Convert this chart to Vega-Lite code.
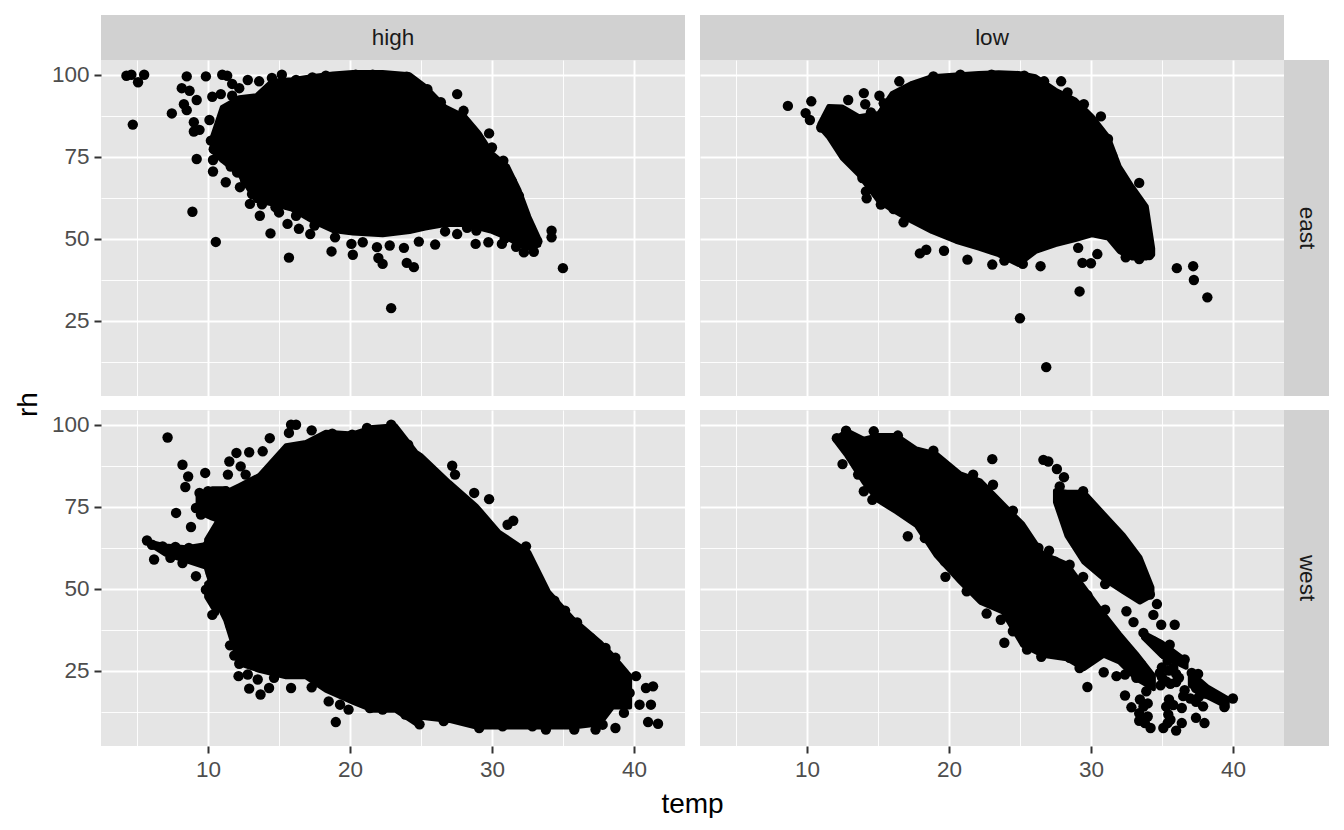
{"$schema":"https://vega.github.io/schema/vega-lite/v6.json","padding":{"left":14,"top":14,"right":0,"bottom":0},"autosize":{"type":"pad"},"background":"white","columns":4,"spacing":0,"align":"each","bounds":"flush","config":{"font":"Liberation Sans","view":{"stroke":null},"axis":{"domain":false,"labelColor":"#4D4D4D","labelFontSize":22.5,"labelOverlap":false,"labelFlush":false,"labelBound":false,"labelPadding":5,"tickColor":"#333333","tickSize":7,"tickWidth":2,"gridColor":"#FFFFFF","titleColor":"#000000","titleFontSize":28,"titleFontWeight":"normal"}},
"datasets":{"bands":[
{"heat":"high","region":"east","blob":"a","temp":10.3,"top":80.9,"bottom":76.8},{"heat":"high","region":"east","blob":"a","temp":11.0,"top":90,"bottom":73.8},{"heat":"high","region":"east","blob":"a","temp":12.2,"top":93,"bottom":69.7},{"heat":"high","region":"east","blob":"a","temp":13.4,"top":93.6,"bottom":61.6},{"heat":"high","region":"east","blob":"a","temp":14.5,"top":98,"bottom":60.6},{"heat":"high","region":"east","blob":"a","temp":15.9,"top":98.5,"bottom":59},{"heat":"high","region":"east","blob":"a","temp":17.3,"top":99.4,"bottom":55.5},{"heat":"high","region":"east","blob":"a","temp":18.8,"top":100.2,"bottom":52.5},{"heat":"high","region":"east","blob":"a","temp":20.2,"top":100.7,"bottom":51.7},{"heat":"high","region":"east","blob":"a","temp":22.3,"top":100.7,"bottom":51.2},{"heat":"high","region":"east","blob":"a","temp":24.2,"top":100,"bottom":52.2},{"heat":"high","region":"east","blob":"a","temp":25.3,"top":96.4,"bottom":53.2},{"heat":"high","region":"east","blob":"a","temp":26.7,"top":90.2,"bottom":54.3},{"heat":"high","region":"east","blob":"a","temp":28.1,"top":87.2,"bottom":54.3},{"heat":"high","region":"east","blob":"a","temp":29.1,"top":82.1,"bottom":53.2},{"heat":"high","region":"east","blob":"a","temp":30,"top":76,"bottom":52.2},{"heat":"high","region":"east","blob":"a","temp":31.1,"top":72,"bottom":50.2},{"heat":"high","region":"east","blob":"a","temp":31.9,"top":64.9,"bottom":48.2},{"heat":"high","region":"east","blob":"a","temp":32.6,"top":56.7,"bottom":47.1},{"heat":"high","region":"east","blob":"a","temp":33.3,"top":50,"bottom":48},
{"heat":"low","region":"east","blob":"a","temp":10.9,"top":85,"bottom":84},{"heat":"low","region":"east","blob":"a","temp":11.53,"top":90.3,"bottom":80.9},{"heat":"low","region":"east","blob":"a","temp":12.47,"top":90.2,"bottom":74.6},{"heat":"low","region":"east","blob":"a","temp":13.65,"top":87.2,"bottom":69.5},{"heat":"low","region":"east","blob":"a","temp":15.06,"top":88.2,"bottom":61.4},{"heat":"low","region":"east","blob":"a","temp":16,"top":94.3,"bottom":58.8},{"heat":"low","region":"east","blob":"a","temp":17.4,"top":97.4,"bottom":55.3},{"heat":"low","region":"east","blob":"a","temp":18.8,"top":99.4,"bottom":52.2},{"heat":"low","region":"east","blob":"a","temp":20.5,"top":99.9,"bottom":49.2},{"heat":"low","region":"east","blob":"a","temp":22.1,"top":100.4,"bottom":47.1},{"heat":"low","region":"east","blob":"a","temp":23.5,"top":100.6,"bottom":45.1},{"heat":"low","region":"east","blob":"a","temp":24.9,"top":100.4,"bottom":42.1},{"heat":"low","region":"east","blob":"a","temp":26.1,"top":99.4,"bottom":46.1},{"heat":"low","region":"east","blob":"a","temp":27.5,"top":95.3,"bottom":48.2},{"heat":"low","region":"east","blob":"a","temp":28.9,"top":92.3,"bottom":49.7},{"heat":"low","region":"east","blob":"a","temp":30.1,"top":87.2,"bottom":51.2},{"heat":"low","region":"east","blob":"a","temp":31.2,"top":81.1,"bottom":50.2},{"heat":"low","region":"east","blob":"a","temp":32,"top":72,"bottom":46.1},{"heat":"low","region":"east","blob":"a","temp":32.9,"top":65.9,"bottom":44.1},{"heat":"low","region":"east","blob":"a","temp":33.9,"top":59.8,"bottom":44.1},{"heat":"low","region":"east","blob":"a","temp":34.35,"top":47,"bottom":45},
{"heat":"high","region":"west","blob":"a","temp":9.9,"top":65,"bottom":56},{"heat":"high","region":"west","blob":"a","temp":10.6,"top":70,"bottom":46},{"heat":"high","region":"west","blob":"a","temp":11.25,"top":79.4,"bottom":40.3},{"heat":"high","region":"west","blob":"a","temp":12.2,"top":81.4,"bottom":27.1},{"heat":"high","region":"west","blob":"a","temp":13.6,"top":84.5,"bottom":25.1},{"heat":"high","region":"west","blob":"a","temp":15.5,"top":93.6,"bottom":23.1},{"heat":"high","region":"west","blob":"a","temp":16.9,"top":94.6,"bottom":23.1},{"heat":"high","region":"west","blob":"a","temp":18.3,"top":97.7,"bottom":19},{"heat":"high","region":"west","blob":"a","temp":20.2,"top":97.2,"bottom":15.4},{"heat":"high","region":"west","blob":"a","temp":21.6,"top":99.2,"bottom":12.9},{"heat":"high","region":"west","blob":"a","temp":23.2,"top":99.7,"bottom":12.9},{"heat":"high","region":"west","blob":"a","temp":24.65,"top":91.6,"bottom":8.8},{"heat":"high","region":"west","blob":"a","temp":25,"top":90.6,"bottom":10.8},{"heat":"high","region":"west","blob":"a","temp":27,"top":82.4,"bottom":9.8},{"heat":"high","region":"west","blob":"a","temp":28.9,"top":75.2,"bottom":7.8},{"heat":"high","region":"west","blob":"a","temp":30.5,"top":67.2,"bottom":7.8},{"heat":"high","region":"west","blob":"a","temp":32.6,"top":61.1,"bottom":7.8},{"heat":"high","region":"west","blob":"a","temp":34,"top":48.9,"bottom":7.8},{"heat":"high","region":"west","blob":"a","temp":35.7,"top":40.8,"bottom":7.8},{"heat":"high","region":"west","blob":"a","temp":37.6,"top":33.7,"bottom":8.8},{"heat":"high","region":"west","blob":"a","temp":38.5,"top":29.6,"bottom":13.9},{"heat":"high","region":"west","blob":"a","temp":39.7,"top":23.5,"bottom":13.9},
{"heat":"high","region":"west","blob":"s","temp":5.9,"top":64.2,"bottom":63.6},{"heat":"high","region":"west","blob":"s","temp":7,"top":63,"bottom":60.5},{"heat":"high","region":"west","blob":"s","temp":8.5,"top":62.5,"bottom":58.5},{"heat":"high","region":"west","blob":"s","temp":9.9,"top":63.5,"bottom":56.5},
{"heat":"high","region":"west","blob":"c","temp":9.3,"top":78.5,"bottom":73.5},{"heat":"high","region":"west","blob":"c","temp":10.3,"top":80.5,"bottom":71.5},{"heat":"high","region":"west","blob":"c","temp":11.3,"top":80.5,"bottom":70},
{"heat":"high","region":"west","blob":"d","temp":9.9,"top":51.5,"bottom":47.5},{"heat":"high","region":"west","blob":"d","temp":10.6,"top":54,"bottom":42.5},
{"heat":"low","region":"west","blob":"a","temp":12,"top":95.6,"bottom":95.2},{"heat":"low","region":"west","blob":"a","temp":12.8,"top":98.2,"bottom":90.6},{"heat":"low","region":"west","blob":"a","temp":14,"top":95.6,"bottom":82.5},{"heat":"low","region":"west","blob":"a","temp":15,"top":96.7,"bottom":76.9},{"heat":"low","region":"west","blob":"a","temp":16.3,"top":96.7,"bottom":73.4},{"heat":"low","region":"west","blob":"a","temp":17.7,"top":92.6,"bottom":69.3},{"heat":"low","region":"west","blob":"a","temp":19.1,"top":91.1,"bottom":60.1},{"heat":"low","region":"west","blob":"a","temp":20.8,"top":85,"bottom":52},{"heat":"low","region":"west","blob":"a","temp":22.2,"top":82.9,"bottom":45.9},{"heat":"low","region":"west","blob":"a","temp":23.8,"top":75.8,"bottom":42.9},{"heat":"low","region":"west","blob":"a","temp":25.2,"top":69.7,"bottom":32.7},{"heat":"low","region":"west","blob":"a","temp":26.6,"top":60.6,"bottom":29.7},{"heat":"low","region":"west","blob":"a","temp":28.3,"top":57.5,"bottom":28.6},{"heat":"low","region":"west","blob":"a","temp":29.5,"top":50.4,"bottom":25.6},{"heat":"low","region":"west","blob":"a","temp":30.9,"top":42.3,"bottom":29.7},{"heat":"low","region":"west","blob":"a","temp":32,"top":36.2,"bottom":27.6},{"heat":"low","region":"west","blob":"a","temp":33.2,"top":30.1,"bottom":22.5},{"heat":"low","region":"west","blob":"a","temp":34.4,"top":23.5,"bottom":19.5},
{"heat":"low","region":"west","blob":"b","temp":27.5,"top":79.9,"bottom":76.4},{"heat":"low","region":"west","blob":"b","temp":28.3,"top":79.4,"bottom":66.2},{"heat":"low","region":"west","blob":"b","temp":29.5,"top":79.4,"bottom":58.1},{"heat":"low","region":"west","blob":"b","temp":30.9,"top":72.8,"bottom":53},{"heat":"low","region":"west","blob":"b","temp":32.3,"top":66.2,"bottom":49},{"heat":"low","region":"west","blob":"b","temp":33.45,"top":59.6,"bottom":45.9},{"heat":"low","region":"west","blob":"b","temp":34.3,"top":50.4,"bottom":48},
{"heat":"low","region":"west","blob":"c","temp":33.7,"top":36.5,"bottom":35},{"heat":"low","region":"west","blob":"c","temp":35,"top":33.5,"bottom":29.5},{"heat":"low","region":"west","blob":"c","temp":36.7,"top":28,"bottom":26},
{"heat":"low","region":"west","blob":"e","temp":37,"top":24.5,"bottom":20.5},{"heat":"low","region":"west","blob":"e","temp":38.2,"top":20,"bottom":17},{"heat":"low","region":"west","blob":"e","temp":39.6,"top":16.5,"bottom":14}
],"points":[
{"p":"he","temp":4.25,"rh":99.7},{"p":"he","temp":4.6,"rh":100},{"p":"he","temp":5.5,"rh":100},{"p":"he","temp":5.07,"rh":97.7},{"p":"he","temp":4.7,"rh":84.8},{"p":"he","temp":8.5,"rh":99.5},{"p":"he","temp":9.85,"rh":99.5},{"p":"he","temp":8.15,"rh":95.9},{"p":"he","temp":8.7,"rh":95.1},{"p":"he","temp":9.2,"rh":92.3},{"p":"he","temp":8.3,"rh":91},{"p":"he","temp":8.5,"rh":89.2},{"p":"he","temp":7.45,"rh":88.2},{"p":"he","temp":9,"rh":85.5},{"p":"he","temp":10.1,"rh":86.2},{"p":"he","temp":9,"rh":82.7},{"p":"he","temp":9.4,"rh":83.2},{"p":"he","temp":9.2,"rh":74.3},{"p":"he","temp":10.35,"rh":74},{"p":"he","temp":10.35,"rh":70.5},{"p":"he","temp":11.25,"rh":67.2},{"p":"he","temp":12.25,"rh":65.7},{"p":"he","temp":8.9,"rh":58.2},{"p":"he","temp":10.55,"rh":49},{"p":"he","temp":12.95,"rh":60.6},{"p":"he","temp":13.65,"rh":57},{"p":"he","temp":14.4,"rh":51.6},{"p":"he","temp":14.75,"rh":59.6},{"p":"he","temp":15.6,"rh":54.5},{"p":"he","temp":16.4,"rh":53},{"p":"he","temp":17.2,"rh":51.4},{"p":"he","temp":15.7,"rh":44.2},{"p":"he","temp":18.7,"rh":46.1},{"p":"he","temp":18.95,"rh":50.4},{"p":"he","temp":20.2,"rh":45.1},{"p":"he","temp":20.1,"rh":48.4},{"p":"he","temp":20.9,"rh":48.9},{"p":"he","temp":21.9,"rh":47.4},{"p":"he","temp":22,"rh":44.1},{"p":"he","temp":22.3,"rh":42.3},{"p":"he","temp":22.8,"rh":47.9},{"p":"he","temp":23.8,"rh":47.2},{"p":"he","temp":24,"rh":42.6},{"p":"he","temp":24.5,"rh":41.3},{"p":"he","temp":22.9,"rh":28.8},{"p":"he","temp":24.85,"rh":49.1},{"p":"he","temp":26,"rh":48.2},{"p":"he","temp":26.7,"rh":52.2},{"p":"he","temp":27.55,"rh":51.4},{"p":"he","temp":28.25,"rh":53.3},{"p":"he","temp":28.85,"rh":48.4},{"p":"he","temp":29.75,"rh":48.9},{"p":"he","temp":30.7,"rh":48.4},{"p":"he","temp":32.25,"rh":45.8},{"p":"he","temp":32.95,"rh":46},{"p":"he","temp":33.2,"rh":49.2},{"p":"he","temp":34.2,"rh":52.4},{"p":"he","temp":34.2,"rh":50.4},{"p":"he","temp":35,"rh":41},{"p":"he","temp":27.55,"rh":94.1},{"p":"he","temp":28,"rh":89},{"p":"he","temp":29.8,"rh":82.1},{"p":"he","temp":30,"rh":77.8},{"p":"he","temp":30.8,"rh":73.8},{"p":"he","temp":31.4,"rh":67.5},{"p":"he","temp":31.9,"rh":63},{"p":"he","temp":32.1,"rh":58.5},{"p":"he","temp":32.7,"rh":53.4},{"p":"he","temp":11,"rh":100},{"p":"he","temp":11.35,"rh":99.7},{"p":"he","temp":11.7,"rh":97.2},{"p":"he","temp":12.2,"rh":95.9},{"p":"he","temp":12.8,"rh":98.4},{"p":"he","temp":13.6,"rh":98},{"p":"he","temp":10.3,"rh":93.3},{"p":"he","temp":10.9,"rh":94.1},{"p":"he","temp":11.7,"rh":93.6},{"p":"he","temp":14.5,"rh":99},{"p":"he","temp":15.2,"rh":100},{"p":"he","temp":16.2,"rh":98.4},{"p":"he","temp":17.35,"rh":99.2},{"p":"he","temp":18.3,"rh":99.7},{"p":"he","temp":20.4,"rh":100},{"p":"he","temp":21.6,"rh":100},{"p":"he","temp":23.2,"rh":99.2},{"p":"he","temp":24,"rh":99.4},{"p":"he","temp":25.45,"rh":95.6},{"p":"he","temp":26.4,"rh":91.6},{"p":"he","temp":11.4,"rh":89},{"p":"he","temp":11.4,"rh":85.5},{"p":"he","temp":11,"rh":84.5},{"p":"he","temp":10.2,"rh":79.9},{"p":"he","temp":10.4,"rh":77.3},{"p":"he","temp":11,"rh":75.3},{"p":"he","temp":12.05,"rh":70.2},{"p":"he","temp":13.1,"rh":63.6},{"p":"he","temp":11.6,"rh":72},{"p":"he","temp":12.6,"rh":68},{"p":"he","temp":13.8,"rh":60.5},{"p":"he","temp":15,"rh":58},{"p":"he","temp":16.2,"rh":57},{"p":"he","temp":17.5,"rh":54},{"p":"he","temp":28.9,"rh":52.5},{"p":"he","temp":30.9,"rh":50},{"p":"he","temp":31.7,"rh":47.5},
{"p":"le","temp":8.65,"rh":90.5},{"p":"le","temp":10.3,"rh":91.9},{"p":"le","temp":9.9,"rh":88.3},{"p":"le","temp":10.2,"rh":86.2},{"p":"le","temp":11,"rh":83.9},{"p":"le","temp":11.9,"rh":80.4},{"p":"le","temp":12.9,"rh":92.3},{"p":"le","temp":14,"rh":94.4},{"p":"le","temp":15.1,"rh":93.6},{"p":"le","temp":14.1,"rh":91},{"p":"le","temp":15.4,"rh":91.3},{"p":"le","temp":16.5,"rh":98},{"p":"le","temp":18.9,"rh":99.5},{"p":"le","temp":20.8,"rh":100},{"p":"le","temp":23,"rh":100},{"p":"le","temp":25.3,"rh":99.7},{"p":"le","temp":26.7,"rh":98},{"p":"le","temp":27.9,"rh":98},{"p":"le","temp":28.35,"rh":94.6},{"p":"le","temp":29.5,"rh":91},{"p":"le","temp":30.7,"rh":87.3},{"p":"le","temp":31.2,"rh":80.4},{"p":"le","temp":13.9,"rh":68.5},{"p":"le","temp":14.15,"rh":64.4},{"p":"le","temp":14.2,"rh":62.3},{"p":"le","temp":15.2,"rh":60.4},{"p":"le","temp":16.1,"rh":59},{"p":"le","temp":16.8,"rh":55},{"p":"le","temp":18.4,"rh":46.6},{"p":"le","temp":17.95,"rh":45.5},{"p":"le","temp":19.65,"rh":46.3},{"p":"le","temp":21.3,"rh":43.6},{"p":"le","temp":23.05,"rh":42.1},{"p":"le","temp":23.9,"rh":43.3},{"p":"le","temp":25.2,"rh":42.3},{"p":"le","temp":26.45,"rh":41.6},{"p":"le","temp":29.1,"rh":47.2},{"p":"le","temp":30.45,"rh":45.3},{"p":"le","temp":29.4,"rh":42.6},{"p":"le","temp":30,"rh":42.5},{"p":"le","temp":29.2,"rh":33.9},{"p":"le","temp":25,"rh":25.7},{"p":"le","temp":26.85,"rh":10.8},{"p":"le","temp":36.05,"rh":41},{"p":"le","temp":37.2,"rh":41.6},{"p":"le","temp":37.25,"rh":37.4},{"p":"le","temp":38.2,"rh":32.1},{"p":"le","temp":34.1,"rh":45},{"p":"le","temp":33.4,"rh":43.8},{"p":"le","temp":32.45,"rh":44.3},{"p":"le","temp":33.4,"rh":67},{"p":"le","temp":33.5,"rh":60},{"p":"le","temp":33.85,"rh":50.6},{"p":"le","temp":31.5,"rh":75.3},{"p":"le","temp":11.9,"rh":89},{"p":"le","temp":12.6,"rh":88},{"p":"le","temp":14.5,"rh":88.5},
{"p":"hw","temp":7.15,"rh":96.1},{"p":"hw","temp":8.2,"rh":87.8},{"p":"hw","temp":8.6,"rh":84.2},{"p":"hw","temp":8.4,"rh":81},{"p":"hw","temp":9.8,"rh":85.3},{"p":"hw","temp":7.75,"rh":73.1},{"p":"hw","temp":8.8,"rh":68.8},{"p":"hw","temp":5.7,"rh":64.7},{"p":"hw","temp":6.05,"rh":63.4},{"p":"hw","temp":6.8,"rh":62.9},{"p":"hw","temp":7.7,"rh":62.7},{"p":"hw","temp":8.65,"rh":62.4},{"p":"hw","temp":6.2,"rh":58.9},{"p":"hw","temp":7.35,"rh":59.4},{"p":"hw","temp":8.2,"rh":57.8},{"p":"hw","temp":9.15,"rh":53.8},{"p":"hw","temp":9.4,"rh":79.2},{"p":"hw","temp":10,"rh":79.7},{"p":"hw","temp":9.15,"rh":74.6},{"p":"hw","temp":9.5,"rh":72.6},{"p":"hw","temp":10.4,"rh":73},{"p":"hw","temp":11.25,"rh":79.7},{"p":"hw","temp":11,"rh":77.6},{"p":"hw","temp":11.4,"rh":84.8},{"p":"hw","temp":11.5,"rh":88.8},{"p":"hw","temp":12,"rh":91.4},{"p":"hw","temp":12.9,"rh":91.6},{"p":"hw","temp":12.3,"rh":87.3},{"p":"hw","temp":12.65,"rh":84.8},{"p":"hw","temp":13.85,"rh":91.9},{"p":"hw","temp":14.35,"rh":95.9},{"p":"hw","temp":15.7,"rh":97.5},{"p":"hw","temp":16.2,"rh":100},{"p":"hw","temp":15.85,"rh":100},{"p":"hw","temp":17.3,"rh":98.3},{"p":"hw","temp":18.75,"rh":97.3},{"p":"hw","temp":20.15,"rh":97},{"p":"hw","temp":21.2,"rh":99},{"p":"hw","temp":22.9,"rh":100},{"p":"hw","temp":24.1,"rh":93.9},{"p":"hw","temp":10,"rh":63.4},{"p":"hw","temp":10.75,"rh":67.5},{"p":"hw","temp":11.25,"rh":63.4},{"p":"hw","temp":10,"rh":58.9},{"p":"hw","temp":10.2,"rh":54.6},{"p":"hw","temp":11.25,"rh":52.7},{"p":"hw","temp":9.85,"rh":49.7},{"p":"hw","temp":10.3,"rh":47.2},{"p":"hw","temp":10.3,"rh":42},{"p":"hw","temp":11.6,"rh":38.5},{"p":"hw","temp":11.55,"rh":32.7},{"p":"hw","temp":11.85,"rh":29.6},{"p":"hw","temp":12.2,"rh":27.1},{"p":"hw","temp":12.15,"rh":23.3},{"p":"hw","temp":12.8,"rh":23.8},{"p":"hw","temp":12.9,"rh":19.5},{"p":"hw","temp":13.7,"rh":17.7},{"p":"hw","temp":14.3,"rh":19.7},{"p":"hw","temp":13.5,"rh":22.3},{"p":"hw","temp":14.65,"rh":22.8},{"p":"hw","temp":15.85,"rh":19.7},{"p":"hw","temp":17.3,"rh":19.9},{"p":"hw","temp":18.5,"rh":15.6},{"p":"hw","temp":19.3,"rh":14.6},{"p":"hw","temp":19.9,"rh":13.1},{"p":"hw","temp":19,"rh":9.3},{"p":"hw","temp":21.4,"rh":13.6},{"p":"hw","temp":22.3,"rh":13.1},{"p":"hw","temp":23.9,"rh":11.6},{"p":"hw","temp":18.25,"rh":20.4},{"p":"hw","temp":27.2,"rh":87.5},{"p":"hw","temp":27.4,"rh":84.8},{"p":"hw","temp":28.75,"rh":79.2},{"p":"hw","temp":29.8,"rh":77.3},{"p":"hw","temp":31.5,"rh":70.7},{"p":"hw","temp":31.1,"rh":69.5},{"p":"hw","temp":32.4,"rh":62.9},{"p":"hw","temp":32.4,"rh":59.3},{"p":"hw","temp":34.4,"rh":46.3},{"p":"hw","temp":35.15,"rh":43.3},{"p":"hw","temp":36,"rh":39.7},{"p":"hw","temp":36.95,"rh":35},{"p":"hw","temp":38,"rh":31.9},{"p":"hw","temp":38.7,"rh":28.9},{"p":"hw","temp":40.15,"rh":23.3},{"p":"hw","temp":40.85,"rh":19.7},{"p":"hw","temp":41.35,"rh":20.2},{"p":"hw","temp":40.4,"rh":14.6},{"p":"hw","temp":41.2,"rh":14.6},{"p":"hw","temp":41,"rh":9.3},{"p":"hw","temp":41.7,"rh":8.8},{"p":"hw","temp":39.7,"rh":18.2},{"p":"hw","temp":39.3,"rh":12.1},{"p":"hw","temp":39.2,"rh":19.7},{"p":"hw","temp":38.7,"rh":7.5},{"p":"hw","temp":35.8,"rh":7},{"p":"hw","temp":37.3,"rh":7},{"p":"hw","temp":33.8,"rh":7},{"p":"hw","temp":29.1,"rh":7.5},{"p":"hw","temp":30.75,"rh":8},{"p":"hw","temp":26.6,"rh":9.6},{"p":"hw","temp":24.9,"rh":8.6},{"p":"hw","temp":24.1,"rh":11.6},{"p":"hw","temp":25.7,"rh":11.6},{"p":"hw","temp":37.8,"rh":8.5},{"p":"hw","temp":32.85,"rh":8},
{"p":"lw","temp":12.1,"rh":95.9},{"p":"lw","temp":12.75,"rh":98.2},{"p":"lw","temp":14.7,"rh":98},{"p":"lw","temp":16.4,"rh":96.7},{"p":"lw","temp":18.9,"rh":92.1},{"p":"lw","temp":12.5,"rh":88},{"p":"lw","temp":13.6,"rh":84.8},{"p":"lw","temp":14,"rh":79.7},{"p":"lw","temp":14.6,"rh":77.1},{"p":"lw","temp":23.05,"rh":89.5},{"p":"lw","temp":17.1,"rh":66},{"p":"lw","temp":19.75,"rh":53.6},{"p":"lw","temp":21.7,"rh":84.8},{"p":"lw","temp":23.1,"rh":81.7},{"p":"lw","temp":24.5,"rh":73.8},{"p":"lw","temp":26.65,"rh":89.3},{"p":"lw","temp":27,"rh":88.8},{"p":"lw","temp":27.6,"rh":86.5},{"p":"lw","temp":28.1,"rh":84},{"p":"lw","temp":27.8,"rh":81.2},{"p":"lw","temp":29.45,"rh":79.7},{"p":"lw","temp":18.3,"rh":65.4},{"p":"lw","temp":19.7,"rh":58.3},{"p":"lw","temp":21.25,"rh":49.2},{"p":"lw","temp":22.65,"rh":42.4},{"p":"lw","temp":23.65,"rh":40.5},{"p":"lw","temp":24.5,"rh":37},{"p":"lw","temp":23.9,"rh":33.5},{"p":"lw","temp":25.5,"rh":31.4},{"p":"lw","temp":26.5,"rh":29.2},{"p":"lw","temp":28.5,"rh":28.9},{"p":"lw","temp":29.2,"rh":25.8},{"p":"lw","temp":29.7,"rh":28.4},{"p":"lw","temp":29.75,"rh":20},{"p":"lw","temp":30.9,"rh":24.5},{"p":"lw","temp":31.8,"rh":23.3},{"p":"lw","temp":32.4,"rh":23.8},{"p":"lw","temp":26.3,"rh":62.4},{"p":"lw","temp":27.05,"rh":61.6},{"p":"lw","temp":27.45,"rh":58.3},{"p":"lw","temp":28.5,"rh":57.3},{"p":"lw","temp":29.45,"rh":53.6},{"p":"lw","temp":31,"rh":51.4},{"p":"lw","temp":29.75,"rh":48},{"p":"lw","temp":31,"rh":43.6},{"p":"lw","temp":32.5,"rh":43.1},{"p":"lw","temp":33,"rh":39.8},{"p":"lw","temp":34.65,"rh":45.3},{"p":"lw","temp":34.4,"rh":42},{"p":"lw","temp":34.95,"rh":39},{"p":"lw","temp":35.9,"rh":39},{"p":"lw","temp":33.7,"rh":36.5},{"p":"lw","temp":34.4,"rh":33.9},{"p":"lw","temp":35.55,"rh":32.9},{"p":"lw","temp":34.15,"rh":48.2},{"p":"lw","temp":35.2,"rh":29.9},{"p":"lw","temp":36.6,"rh":28.4},{"p":"lw","temp":35.8,"rh":25.8},{"p":"lw","temp":34.85,"rh":24.3},{"p":"lw","temp":35.3,"rh":21.7},{"p":"lw","temp":36.2,"rh":22.8},{"p":"lw","temp":37.1,"rh":24.3},{"p":"lw","temp":37.55,"rh":24},{"p":"lw","temp":37.4,"rh":19.7},{"p":"lw","temp":38.25,"rh":18.2},{"p":"lw","temp":38.95,"rh":16.7},{"p":"lw","temp":40,"rh":16.5},{"p":"lw","temp":39.4,"rh":13.9},{"p":"lw","temp":37.9,"rh":14.1},{"p":"lw","temp":36.5,"rh":17.2},{"p":"lw","temp":36.4,"rh":13.6},{"p":"lw","temp":35.5,"rh":16.2},{"p":"lw","temp":35.45,"rh":11.6},{"p":"lw","temp":35.1,"rh":7.5},{"p":"lw","temp":36,"rh":6.7},{"p":"lw","temp":36.4,"rh":9},{"p":"lw","temp":35.6,"rh":10},{"p":"lw","temp":37.4,"rh":10.6},{"p":"lw","temp":38,"rh":9},{"p":"lw","temp":34.2,"rh":7.5},{"p":"lw","temp":33.4,"rh":9.7},{"p":"lw","temp":34,"rh":11},{"p":"lw","temp":32.85,"rh":13.8},{"p":"lw","temp":33.45,"rh":16.2},{"p":"lw","temp":33.9,"rh":18.7},{"p":"lw","temp":32.4,"rh":17.4},{"p":"lw","temp":34.15,"rh":22.8},{"p":"lw","temp":33.2,"rh":22.8},{"p":"lw","temp":33.55,"rh":26.8},{"p":"lw","temp":33,"rh":28.4},{"p":"lw","temp":32.3,"rh":32.4},{"p":"lw","temp":31.7,"rh":35},{"p":"lw","temp":35.3,"rh":14},{"p":"lw","temp":35.4,"rh":9},{"p":"lw","temp":35.8,"rh":14.5},{"p":"lw","temp":33.4,"rh":12},{"p":"lw","temp":33.7,"rh":14},{"p":"lw","temp":34,"rh":15},{"p":"lw","temp":33.8,"rh":9},{"p":"lw","temp":36.6,"rh":19},{"p":"lw","temp":37,"rh":16.5},{"p":"lw","temp":37.6,"rh":17},{"p":"lw","temp":37.4,"rh":15.5},{"p":"lw","temp":38,"rh":18},{"p":"lw","temp":35,"rh":26},{"p":"lw","temp":35,"rh":23},{"p":"lw","temp":35.5,"rh":25},{"p":"lw","temp":35.6,"rh":21},{"p":"lw","temp":36,"rh":24},{"p":"lw","temp":36,"rh":21.5},{"p":"lw","temp":35.4,"rh":28},{"p":"lw","temp":34.9,"rh":20.5}
]},
"concat":[
{"width":584,"height":45,"view":{"fill":"#D1D1D1"},"data":{"values":[{"label":"high"}]},"mark":{"type":"text","fontSize":22.5,"color":"#1A1A1A"},"encoding":{"text":{"field":"label"}}},
{"width":15,"height":14,"data":{"values":[{}]},"mark":{"type":"rule","opacity":0},"encoding":{}},
{"width":584,"height":45,"view":{"fill":"#D1D1D1"},"data":{"values":[{"label":"low"}]},"mark":{"type":"text","fontSize":22.5,"color":"#1A1A1A"},"encoding":{"text":{"field":"label"}}},
{"width":15,"height":14,"data":{"values":[{}]},"mark":{"type":"rule","opacity":0},"encoding":{}},
{"width":584,"height":336,"view":{"fill":"#E5E5E5"},"layer":[
{"data":{"name":"bands"},"transform":[{"filter":"datum.heat=='high'&&datum.region=='east'"}],"mark":{"type":"area","color":"black","stroke":"black","strokeWidth":5,"strokeJoin":"round"},"encoding":{"detail":{"field":"blob"},"x":{"field":"temp","type":"quantitative","scale":{"domain":[2.46,43.6],"nice":false},"axis":{"values":[5,10,15,20,25,30,35,40],"labels":false,"ticks":false,"title":null,"gridWidth":{"condition":{"test":"datum.value%10!=0","value":0.9},"value":1.9}}},"y":{"field":"top","type":"quantitative","scale":{"domain":[2,104.5],"nice":false,"zero":false},"axis":{"values":[12.5,25,37.5,50,62.5,75,87.5,100],"labelExpr":"datum.value%25==0?datum.label:''","tickOpacity":{"condition":{"test":"datum.value%25!=0","value":0},"value":1},"gridWidth":{"condition":{"test":"datum.value%25!=0","value":0.9},"value":1.9},"title":"rh","titleX":-59,"titleY":344}},"y2":{"field":"bottom"}}},
{"data":{"name":"points"},"transform":[{"filter":"datum.p=='he'"}],"mark":{"type":"circle","size":108,"opacity":1,"color":"black"},"encoding":{"x":{"field":"temp","type":"quantitative","scale":{"domain":[2.46,43.6],"nice":false}},"y":{"field":"rh","type":"quantitative","scale":{"domain":[2,104.5],"nice":false,"zero":false}}}}
]},
{"width":15,"height":14,"data":{"values":[{}]},"mark":{"type":"rule","opacity":0},"encoding":{}},
{"width":584,"height":336,"view":{"fill":"#E5E5E5"},"layer":[
{"data":{"name":"bands"},"transform":[{"filter":"datum.heat=='low'&&datum.region=='east'"}],"mark":{"type":"area","color":"black","stroke":"black","strokeWidth":5,"strokeJoin":"round"},"encoding":{"detail":{"field":"blob"},"x":{"field":"temp","type":"quantitative","scale":{"domain":[2.46,43.6],"nice":false},"axis":{"values":[5,10,15,20,25,30,35,40],"labels":false,"ticks":false,"title":null,"gridWidth":{"condition":{"test":"datum.value%10!=0","value":0.9},"value":1.9}}},"y":{"field":"top","type":"quantitative","scale":{"domain":[2,104.5],"nice":false,"zero":false},"axis":{"values":[12.5,25,37.5,50,62.5,75,87.5,100],"labels":false,"ticks":false,"title":null,"gridWidth":{"condition":{"test":"datum.value%25!=0","value":0.9},"value":1.9}}},"y2":{"field":"bottom"}}},
{"data":{"name":"points"},"transform":[{"filter":"datum.p=='le'"}],"mark":{"type":"circle","size":108,"opacity":1,"color":"black"},"encoding":{"x":{"field":"temp","type":"quantitative","scale":{"domain":[2.46,43.6],"nice":false}},"y":{"field":"rh","type":"quantitative","scale":{"domain":[2,104.5],"nice":false,"zero":false}}}}
]},
{"width":45,"height":336,"view":{"fill":"#D1D1D1"},"data":{"values":[{"label":"east"}]},"mark":{"type":"text","fontSize":22.5,"angle":90,"color":"#1A1A1A"},"encoding":{"text":{"field":"label"}}},
{"width":15,"height":14,"data":{"values":[{}]},"mark":{"type":"rule","opacity":0},"encoding":{}},
{"width":15,"height":14,"data":{"values":[{}]},"mark":{"type":"rule","opacity":0},"encoding":{}},
{"width":15,"height":14,"data":{"values":[{}]},"mark":{"type":"rule","opacity":0},"encoding":{}},
{"width":15,"height":14,"data":{"values":[{}]},"mark":{"type":"rule","opacity":0},"encoding":{}},
{"width":584,"height":336,"view":{"fill":"#E5E5E5"},"layer":[
{"data":{"name":"bands"},"transform":[{"filter":"datum.heat=='high'&&datum.region=='west'"}],"mark":{"type":"area","color":"black","stroke":"black","strokeWidth":5,"strokeJoin":"round"},"encoding":{"detail":{"field":"blob"},"x":{"field":"temp","type":"quantitative","scale":{"domain":[2.46,43.6],"nice":false},"axis":{"values":[5,10,15,20,25,30,35,40],"labelExpr":"datum.value%10==0?datum.label:''","tickOpacity":{"condition":{"test":"datum.value%10!=0","value":0},"value":1},"gridWidth":{"condition":{"test":"datum.value%10!=0","value":0.9},"value":1.9},"title":"temp","titleX":591,"titleY":44}},"y":{"field":"top","type":"quantitative","scale":{"domain":[2,104.5],"nice":false,"zero":false},"axis":{"values":[12.5,25,37.5,50,62.5,75,87.5,100],"labelExpr":"datum.value%25==0?datum.label:''","tickOpacity":{"condition":{"test":"datum.value%25!=0","value":0},"value":1},"gridWidth":{"condition":{"test":"datum.value%25!=0","value":0.9},"value":1.9},"title":null}},"y2":{"field":"bottom"}}},
{"data":{"name":"points"},"transform":[{"filter":"datum.p=='hw'"}],"mark":{"type":"circle","size":108,"opacity":1,"color":"black"},"encoding":{"x":{"field":"temp","type":"quantitative","scale":{"domain":[2.46,43.6],"nice":false}},"y":{"field":"rh","type":"quantitative","scale":{"domain":[2,104.5],"nice":false,"zero":false}}}}
]},
{"width":15,"height":14,"data":{"values":[{}]},"mark":{"type":"rule","opacity":0},"encoding":{}},
{"width":584,"height":336,"view":{"fill":"#E5E5E5"},"layer":[
{"data":{"name":"bands"},"transform":[{"filter":"datum.heat=='low'&&datum.region=='west'"}],"mark":{"type":"area","color":"black","stroke":"black","strokeWidth":5,"strokeJoin":"round"},"encoding":{"detail":{"field":"blob"},"x":{"field":"temp","type":"quantitative","scale":{"domain":[2.46,43.6],"nice":false},"axis":{"values":[5,10,15,20,25,30,35,40],"labelExpr":"datum.value%10==0?datum.label:''","tickOpacity":{"condition":{"test":"datum.value%10!=0","value":0},"value":1},"gridWidth":{"condition":{"test":"datum.value%10!=0","value":0.9},"value":1.9},"title":null}},"y":{"field":"top","type":"quantitative","scale":{"domain":[2,104.5],"nice":false,"zero":false},"axis":{"values":[12.5,25,37.5,50,62.5,75,87.5,100],"labels":false,"ticks":false,"title":null,"gridWidth":{"condition":{"test":"datum.value%25!=0","value":0.9},"value":1.9}}},"y2":{"field":"bottom"}}},
{"data":{"name":"points"},"transform":[{"filter":"datum.p=='lw'"}],"mark":{"type":"circle","size":108,"opacity":1,"color":"black"},"encoding":{"x":{"field":"temp","type":"quantitative","scale":{"domain":[2.46,43.6],"nice":false}},"y":{"field":"rh","type":"quantitative","scale":{"domain":[2,104.5],"nice":false,"zero":false}}}}
]},
{"width":45,"height":336,"view":{"fill":"#D1D1D1"},"data":{"values":[{"label":"west"}]},"mark":{"type":"text","fontSize":22.5,"angle":90,"color":"#1A1A1A"},"encoding":{"text":{"field":"label"}}}
]}
